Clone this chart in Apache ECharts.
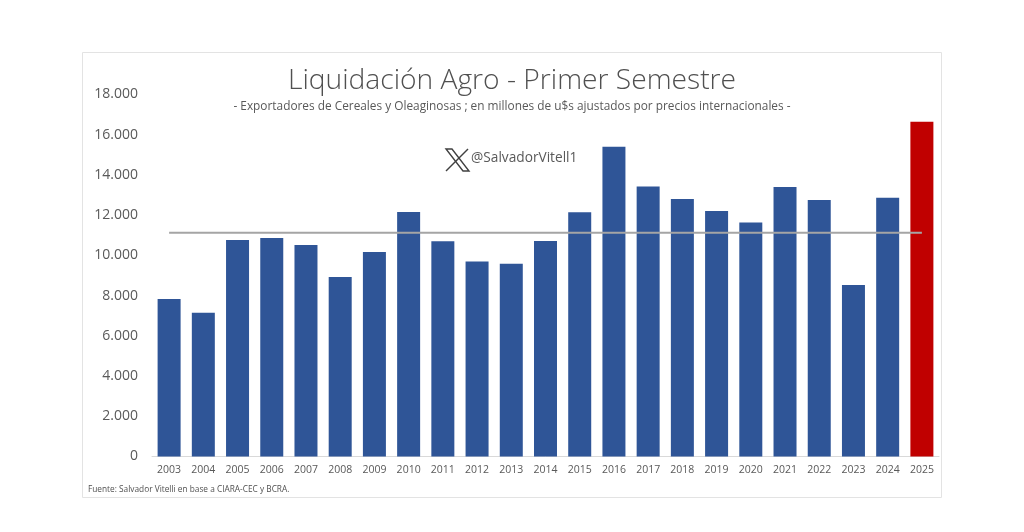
<!DOCTYPE html>
<html>
<head>
<meta charset="utf-8">
<style>
html, body { margin: 0; padding: 0; background: #fff; }
#chart { width: 1024px; height: 532px; }
</style>
<script src="https://cdn.jsdelivr.net/npm/echarts@6/dist/echarts.min.js"></script>
</head>
<body>
<div id="chart"></div>
<script>
var years = ["2003","2004","2005","2006","2007","2008","2009","2010","2011","2012","2013","2014","2015","2016","2017","2018","2019","2020","2021","2022","2023","2024","2025"];
var liquidacion = [7830,7150,10770,10870,10520,8930,10170,12160,10700,9700,9580,10720,12140,15400,13430,12810,12210,11640,13400,12760,8530,12860,16640];
var promedio = [11120,11120,11120,11120,11120,11120,11120,11120,11120,11120,11120,11120,11120,11120,11120,11120,11120,11120,11120,11120,11120,11120,11120];
var yTicks = [0,2000,4000,6000,8000,10000,12000,14000,16000,18000];
var azul = "#2F5597", rojo = "#C00000";

var fontName = "'Open Sans', 'Noto Sans', sans-serif";

function miles(v) {
	return String(v).replace(/\B(?=(\d{3})+$)/g, ".");
}

var chart = echarts.init(document.getElementById("chart"));
chart.setOption({
	animation: false,
	backgroundColor: "#fff",
	textStyle: { fontFamily: fontName },
	grid: { left: 152, right: 85, top: 94.5, bottom: 75.5 },
	xAxis: {
		type: "category",
		data: years,
		axisTick: { show: false },
		axisLine: { lineStyle: { color: "#d9d9d9" } },
		axisLabel: { color: "#595959", fontSize: 10.5, margin: 8, interval: 0 }
	},
	yAxis: {
		type: "value",
		min: yTicks[0],
		max: yTicks[yTicks.length - 1],
		interval: 2000,
		splitLine: { show: false },
		axisLabel: { color: "#595959", fontSize: 14, margin: 14, padding: [3, 0, 0, 0], formatter: miles }
	},
	series: [
		{
			type: "bar",
			barWidth: 23,
			data: liquidacion.map(function (v, i) {
				return { value: v, itemStyle: { color: years[i] === "2025" ? rojo : azul } };
			})
		},
		{
			type: "line",
			data: promedio,
			symbol: "none",
			lineStyle: { color: "#A5A5A5", width: 2 }
		}
	],
	graphic: [
		{
			type: "rect",
			silent: true,
			shape: { x: 82.5, y: 52.5, width: 859, height: 445 },
			style: { fill: "none", stroke: "#e3e3e3", lineWidth: 1 }
		},
		{
			type: "text", x: 512, y: 81,
			style: { text: "Liquidación Agro - Primer Semestre", font: "300 28.2px " + fontName, fill: "#505050", textAlign: "center", textVerticalAlign: "middle" }
		},
		{
			type: "text", x: 512, y: 107,
			style: { text: "- Exportadores de Cereales y Oleaginosas ; en millones de u$s ajustados por precios internacionales -", font: "11.85px " + fontName, fill: "#595959", textAlign: "center", textVerticalAlign: "middle" }
		},
		// logo de X
		{
			type: "polygon",
			silent: true,
			shape: { points: [[446,149],[452,149],[469,171],[463,171]] },
			style: { fill: "none", stroke: "#404040", lineWidth: 1.4 }
		},
		{
			type: "line",
			silent: true,
			shape: { x1: 468, y1: 149, x2: 446, y2: 171 },
			style: { stroke: "#404040", lineWidth: 1.4 }
		},
		{
			type: "text", x: 471, y: 158,
			style: { text: "@SalvadorVitell1", font: "13.7px " + fontName, fill: "#595959", textAlign: "left", textVerticalAlign: "middle" }
		},
		{
			type: "text", x: 88, y: 490,
			style: { text: "Fuente: Salvador Vitelli en base a CIARA-CEC y BCRA.", font: "8.3px " + fontName, fill: "#505050", textAlign: "left", textVerticalAlign: "middle" }
		}
	]
});
</script>
</body>
</html>
